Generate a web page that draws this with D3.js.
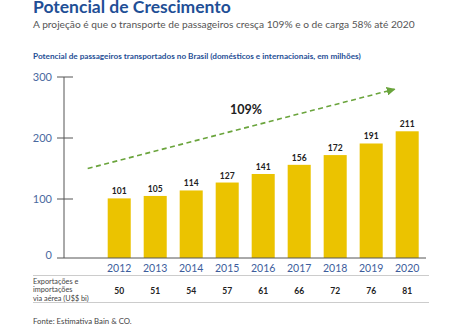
<!DOCTYPE html>
<html>
<head>
<meta charset="utf-8">
<script src="https://cdn.jsdelivr.net/npm/d3@7"></script>
<style>
  body { margin: 0; background: #fff; }
  svg text { font-family: "Lato", "Open Sans", sans-serif; }
</style>
</head>
<body>
<div id="chart"></div>
<script>
// passageiros (milhões) e exportações/importações via aérea (US$ bi)
let years = ["2012", "2013", "2014", "2015", "2016", "2017", "2018", "2019", "2020"]
let passengers = [101, 105, 114, 127, 141, 156, 172, 191, 211]
let cargo = [50, 51, 54, 57, 61, 66, 72, 76, 81]
let yTicks = [0, 100, 200, 300]
let growthLabel = "109%"
// trend arrow, in chart units (value axis)
let trendFrom = 150
let trendTo = 280

const width = 460, height = 325

const svg = d3.select("#chart")
    .append("svg")
    .attr("width", width)
    .attr("height", height)

const blue = "#1f4f96"
const yellow = "#ebc300"
const green = "#6aa43c"

// titles
svg.append("text")
    .attr("x", 33).attr("y", 12.5)
    .attr("fill", blue)
    .attr("font-size", 17.5)
    .attr("font-weight", "bold")
    .text("Potencial de Crescimento")

svg.append("text")
    .attr("x", 33).attr("y", 28)
    .attr("fill", "#555")
    .attr("font-size", 10.2)
    .text("A projeção é que o transporte de passageiros cresça 109% e o de carga 58% até 2020")

svg.append("text")
    .attr("x", 33).attr("y", 59)
    .attr("fill", blue)
    .attr("font-size", 8.2)
    .attr("font-weight", "bold")
    .text("Potencial de passageiros transportados no Brasil (domésticos e internacionais, em milhões)")

var x = d3.scaleBand()
    .domain(years)
    .range([96.9, 429.5])
    .paddingInner(0.36)
    .paddingOuter(0.3)

var y = d3.scaleLinear()
    .domain([0, 300])
    .range([260, 77])

const baseline = 258

// y axis
svg.append("line")
    .attr("x1", 64).attr("x2", 64)
    .attr("y1", y(300)).attr("y2", baseline)
    .attr("stroke", "#555").attr("stroke-width", 1)

svg.selectAll(".ytick")
    .data(yTicks.filter(d => d > 0))
    .enter().append("line")
    .attr("class", "ytick")
    .attr("x1", 57).attr("x2", 73)
    .attr("y1", d => y(d)).attr("y2", d => y(d))
    .attr("stroke", "#555")

svg.selectAll(".ylabel")
    .data(yTicks)
    .enter().append("text")
    .attr("class", "ylabel")
    .attr("x", 52)
    .attr("y", d => d === 0 ? baseline - 3 : y(d))
    .attr("dy", "0.35em")
    .attr("text-anchor", "end")
    .attr("fill", "#4a69a0")
    .attr("font-size", 11)
    .text(d => d)

// bars
svg.selectAll(".bar")
    .data(passengers)
    .enter().append("rect")
    .attr("class", "bar")
    .attr("x", (d, i) => x(years[i]))
    .attr("y", d => y(d))
    .attr("width", x.bandwidth())
    .attr("height", d => baseline - y(d))
    .attr("fill", yellow)

svg.selectAll(".val")
    .data(passengers)
    .enter().append("text")
    .attr("class", "val")
    .attr("x", (d, i) => x(years[i]) + x.bandwidth() / 2)
    .attr("y", d => y(d) - 4)
    .attr("text-anchor", "middle")
    .attr("fill", "#222")
    .attr("font-size", 8.5)
    .attr("font-weight", "bold")
    .text(d => d)

// x axis
svg.append("line")
    .attr("x1", 57).attr("x2", 426)
    .attr("y1", baseline).attr("y2", baseline)
    .attr("stroke", "#555")

svg.selectAll(".xlabel")
    .data(years)
    .enter().append("text")
    .attr("class", "xlabel")
    .attr("x", d => x(d) + x.bandwidth() / 2)
    .attr("y", 272)
    .attr("text-anchor", "middle")
    .attr("fill", "#3d5d9c")
    .attr("font-size", 10.5)
    .text(d => d)

// trend arrow
svg.append("defs").append("marker")
    .attr("id", "head")
    .attr("viewBox", "0 0 10 10")
    .attr("refX", 9).attr("refY", 5)
    .attr("markerWidth", 5.5).attr("markerHeight", 5.5)
    .attr("markerUnits", "strokeWidth")
    .attr("orient", "auto")
    .append("path")
    .attr("d", "M0,0 L10,5 L0,10 Z")
    .attr("fill", green)

svg.append("line")
    .attr("x1", x(years[0]) - 20)
    .attr("y1", y(trendFrom))
    .attr("x2", x(years[8]) - 1)
    .attr("y2", y(trendTo))
    .attr("stroke", green)
    .attr("stroke-width", 1.6)
    .attr("stroke-dasharray", "5,3.5")
    .attr("marker-end", "url(#head)")

svg.append("text")
    .attr("x", 246).attr("y", 114)
    .attr("text-anchor", "middle")
    .attr("fill", "#222")
    .attr("font-size", 12.5)
    .attr("font-weight", "bold")
    .text(growthLabel)

// cargo table
svg.append("line")
    .attr("x1", 33).attr("x2", 429)
    .attr("y1", 275.5).attr("y2", 275.5)
    .attr("stroke", "#ccc")
svg.append("line")
    .attr("x1", 33).attr("x2", 429)
    .attr("y1", 302.5).attr("y2", 302.5)
    .attr("stroke", "#ccc")

let rowLabel = ["Exportações e", "importações", "via aérea (U$$ bi)"]
svg.append("text")
    .attr("fill", "#444")
    .attr("font-size", 7.3)
    .selectAll("tspan")
    .data(rowLabel)
    .enter().append("tspan")
    .attr("x", 33)
    .attr("y", (d, i) => 283.5 + i * 8.7)
    .text(d => d)

svg.selectAll(".cargo")
    .data(cargo)
    .enter().append("text")
    .attr("class", "cargo")
    .attr("x", (d, i) => x(years[i]) + x.bandwidth() / 2)
    .attr("y", 294)
    .attr("text-anchor", "middle")
    .attr("fill", "#222")
    .attr("font-size", 8.5)
    .attr("font-weight", "bold")
    .text(d => d)

svg.append("text")
    .attr("x", 33).attr("y", 324)
    .attr("fill", "#444")
    .attr("font-size", 7.8)
    .text("Fonte: Estimativa Bain & CO.")
</script>
</body>
</html>
